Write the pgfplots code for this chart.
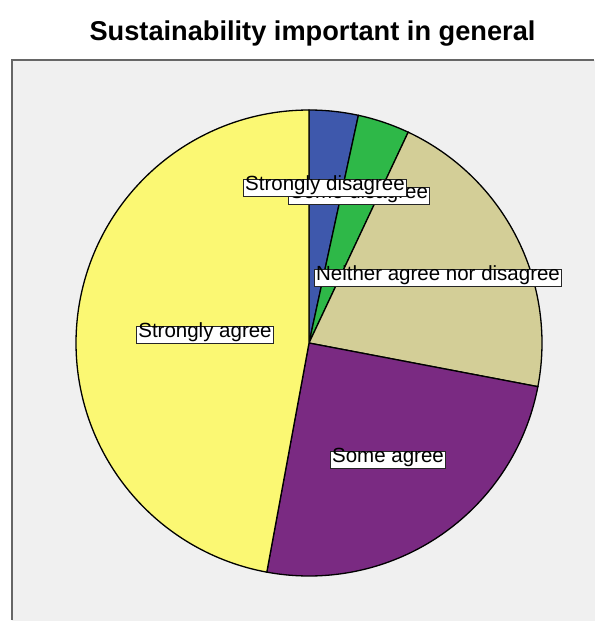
\documentclass[border=0pt]{standalone}
\usepackage{pgfplots}
\pgfplotsset{compat=1.18}
\usepackage{fontspec}
\setmainfont{Liberation Sans}
\definecolor{bgc}{HTML}{F0F0F0}
\definecolor{framec}{HTML}{666666}
\definecolor{cblue}{HTML}{3E58AC}
\definecolor{cgreen}{HTML}{2EB848}
\definecolor{ctan}{HTML}{D3CE97}
\definecolor{cpurple}{HTML}{7A2A82}
\definecolor{cyellow}{HTML}{FBF873}
\tikzset{lbl/.style={draw=black!85, line width=1.1pt, fill=white, font=\fontsize{20.5}{22}\selectfont,
    inner xsep=1.5pt, inner ysep=3.5pt, text height=0.74em, text depth=0.22em}}
\begin{document}
\begin{tikzpicture}
% percentages (clockwise from 12 o'clock)
\def\vA{3.4}  % Strongly disagree
\def\vB{3.6}  % Some disagree
\def\vC{21.0} % Neither agree nor disagree
\def\vD{24.9} % Some agree
\def\vE{47.1} % Strongly agree
\pgfmathsetmacro\aA{0}
\pgfmathsetmacro\aB{\aA+3.6*\vA}
\pgfmathsetmacro\aC{\aB+3.6*\vB}
\pgfmathsetmacro\aD{\aC+3.6*\vC}
\pgfmathsetmacro\aE{\aD+3.6*\vD}
\pgfmathsetmacro\aF{\aE+3.6*\vE}
\begin{axis}[
  width=595pt, height=621pt, scale only axis,
  xmin=0, xmax=595, ymin=0, ymax=621, y dir=reverse,
  hide axis, clip=true,
]
\path (0,0) rectangle (595,621);
\fill[bgc] (12,60) rectangle (595,621);
\draw[framec, line width=2pt] (12,620) -- (12,60) -- (594,60);
\addplot[draw=black, line width=1.3pt, fill=cblue, domain=\aA:\aB, samples=30, variable=\t]
  ({309+233*sin(t)}, {343-233*cos(t)}) -- (309,343) -- cycle;
\addplot[draw=black, line width=1.3pt, fill=cgreen, domain=\aB:\aC, samples=30, variable=\t]
  ({309+233*sin(t)}, {343-233*cos(t)}) -- (309,343) -- cycle;
\addplot[draw=black, line width=1.3pt, fill=ctan, domain=\aC:\aD, samples=80, variable=\t]
  ({309+233*sin(t)}, {343-233*cos(t)}) -- (309,343) -- cycle;
\addplot[draw=black, line width=1.3pt, fill=cpurple, domain=\aD:\aE, samples=80, variable=\t]
  ({309+233*sin(t)}, {343-233*cos(t)}) -- (309,343) -- cycle;
\addplot[draw=black, line width=1.3pt, fill=cyellow, domain=\aE:\aF, samples=150, variable=\t]
  ({309+233*sin(t)}, {343-233*cos(t)}) -- (309,343) -- cycle;
\node[lbl] at (359,196) {Some disagree};
\node[lbl] at (325,188) {Strongly disagree};
\node[lbl] at (438,278) {Neither agree nor disagree};
\node[lbl] at (205,335) {Strongly agree};
\node[lbl] at (388,460) {Some agree};
\node[anchor=base, font=\fontsize{27.2}{30}\selectfont\bfseries] at (312.5,40) {Sustainability important in general};
\end{axis}
\end{tikzpicture}
\end{document}
